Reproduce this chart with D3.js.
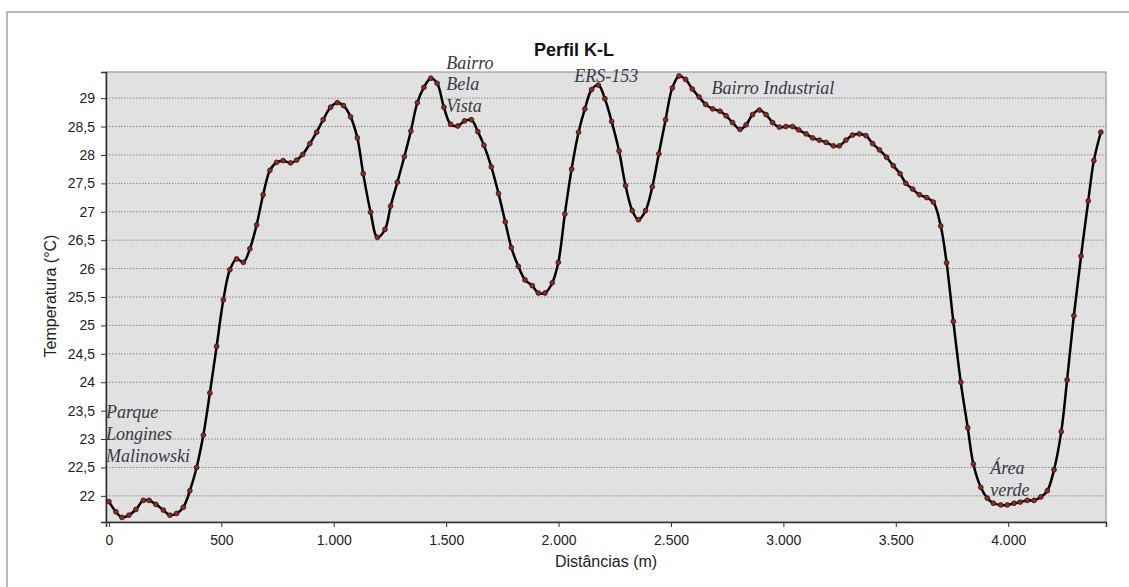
<!DOCTYPE html>
<html lang="pt">
    <head>
        <meta charset="utf-8">
        <title>Perfil K-L</title>
        <style>
          body {
            margin: 0;
            background: white;
          }
          .tick text {
            font: 14px "Liberation Sans", Arial, sans-serif;
            fill: #222;
          }
          .grid line {
            stroke: #8a8a8a;
            stroke-dasharray: 1.5,1.5;
          }
          .note {
            font-family: "Liberation Serif", "Times New Roman", serif;
            font-style: italic;
            font-size: 18px;
            fill: #353a45;
          }
        </style>
        <script src="https://cdn.jsdelivr.net/npm/d3@7"></script>
    </head>
    <body>
        <script type="text/javascript">
          var w=1129;
          var h=587;

          // distance (m) of every sample along the K-L transect
          var distances=[0,31,58,89,120,153,179,209,242,271,301,331,360,390,420,449,479,509,538,568,
            598,627,657,686,716,746,775,808,835,862,894,924,953,986,1016,1043,1075,1105,1131,1164,
            1194,1228,1253,1283,1314,1343,1372,1401,1432,1460,1490,1520,1552,1582,1612,1641,1668,1701,1733,1763,
            1790,1821,1851,1883,1910,1940,1972,1999,2028,2058,2089,2117,2147,2177,2206,2236,2269,2298,2328,2355,
            2387,2417,2446,2476,2506,2536,2565,2595,2625,2654,2686,2718,2745,2774,2807,2834,2863,2893,2923,2952,
            2982,3011,3041,3068,3101,3130,3160,3190,3222,3249,3278,3308,3338,3367,3397,3427,3459,3489,3519,3545,
            3575,3605,3637,3667,3700,3726,3756,3789,3820,3845,3878,3907,3934,3967,3996,4026,4053,4085,4115,4145,
            4174,4204,4236,4262,4292,4324,4356,4381,4412];

          // temperature (°C) at each sample
          var temperatures=[21.90,21.72,21.62,21.66,21.76,21.92,21.92,21.85,21.75,21.66,21.69,21.80,22.09,22.50,23.07,23.81,24.63,25.45,25.98,26.17,
            26.11,26.35,26.77,27.30,27.73,27.87,27.90,27.86,27.91,28.01,28.20,28.40,28.62,28.84,28.92,28.87,28.67,28.30,27.67,26.99,
            26.55,26.69,27.10,27.52,27.97,28.42,28.92,29.19,29.35,29.26,28.84,28.54,28.51,28.60,28.62,28.41,28.17,27.79,27.32,26.82,
            26.37,26.04,25.80,25.70,25.57,25.57,25.75,26.11,26.96,27.75,28.40,28.81,29.15,29.23,28.99,28.59,28.07,27.46,27.02,26.86,
            27.02,27.44,28.02,28.62,29.18,29.39,29.33,29.16,29.02,28.89,28.81,28.77,28.69,28.57,28.45,28.53,28.71,28.79,28.71,28.57,
            28.49,28.50,28.50,28.44,28.37,28.30,28.26,28.22,28.16,28.16,28.26,28.35,28.37,28.34,28.20,28.09,27.96,27.81,27.67,27.50,
            27.40,27.30,27.25,27.17,26.75,26.10,25.07,24.00,23.20,22.56,22.15,21.96,21.87,21.84,21.84,21.87,21.89,21.92,21.92,21.98,
            22.09,22.46,23.13,24.04,25.17,26.22,27.19,27.90,28.40];

          var xTicks=[0,500,1000,1500,2000,2500,3000,3500,4000];
          var yTicks=[22,22.5,23,23.5,24,24.5,25,25.5,26,26.5,27,27.5,28,28.5,29];

          // place names written over the profile: [text lines, distance, temperature of first line]
          var noteLines=[["Parque","Longines","Malinowski"],["Bairro","Bela","Vista"],["ERS-153"],["Bairro Industrial"],["Área","verde"]];
          var noteX=[-13,1500,2070,2680,3920];
          var noteY=[23.37,29.52,29.28,29.07,22.38];

          var pt=d3.formatLocale({decimal:",",thousands:".",grouping:[3],currency:["R$",""]});

          var margin={left:106,right:23,top:72,bottom:65};

          var svg=d3.select("body").append("svg")
            .attr('width',w)
            .attr('height',h);

          // outer chart frame
          svg.append("rect")
            .attr("x",7).attr("y",12)
            .attr("width",w+20).attr("height",h+20)
            .attr("fill","white")
            .attr("stroke","#a3a3a3")
            .attr("stroke-width",1.5);

          var x=d3.scaleLinear().domain([-13,4435]).range([margin.left,w-margin.right]);
          var y=d3.scaleLinear().domain([21.54,29.46]).range([h-margin.bottom,margin.top]);

          svg.append("rect")
            .attr("x",margin.left).attr("y",margin.top)
            .attr("width",w-margin.left-margin.right)
            .attr("height",h-margin.top-margin.bottom)
            .attr("fill","#e1e1e1")
            .attr("stroke","#9a9a9a")
            .attr("stroke-width",1.2);

          svg.append("g")
            .attr("class","grid")
            .selectAll("line")
            .data(yTicks)
            .enter().append("line")
            .attr("x1",margin.left).attr("x2",w-margin.right)
            .attr("y1",function(d){ return y(d); })
            .attr("y2",function(d){ return y(d); });

          var xAxis=svg.append("g")
            .attr("transform","translate(0,"+(h-margin.bottom)+")")
            .call(d3.axisBottom(x).tickValues(xTicks).tickSize(5).tickPadding(8).tickFormat(pt.format(",d")));
          xAxis.select(".domain").attr("stroke","#333").attr("stroke-width",1.5);

          var yAxis=svg.append("g")
            .attr("transform","translate("+margin.left+",0)")
            .call(d3.axisLeft(y).tickValues(yTicks).tickSize(5).tickPadding(6).tickFormat(pt.format("~f")));
          yAxis.select(".domain").attr("stroke","#333").attr("stroke-width",1.5);
          svg.selectAll(".tick line").attr("stroke","#333");

          var line=d3.line()
            .x(function(d,i){ return x(distances[i]); })
            .y(function(d){ return y(d); })
            .curve(d3.curveCatmullRom);

          svg.append("path")
            .datum(temperatures)
            .attr("d",line)
            .attr("fill","none")
            .attr("stroke","black")
            .attr("stroke-width",2.5);

          svg.append("g")
            .selectAll("circle")
            .data(temperatures)
            .enter().append("circle")
            .attr("cx",function(d,i){ return x(distances[i]); })
            .attr("cy",function(d){ return y(d); })
            .attr("r",2.4)
            .attr("fill","#8e2a26")
            .attr("stroke","#3b0c0a")
            .attr("stroke-width",0.8);

          // annotations
          var notes=svg.append("g");
          noteLines.forEach(function(lines,k){
            var t=notes.append("text")
              .attr("class","note")
              .attr("x",x(noteX[k]))
              .attr("y",y(noteY[k]));
            lines.forEach(function(s,j){
              t.append("tspan")
                .attr("x",x(noteX[k]))
                .attr("dy",j==0?0:21.8)
                .text(s);
            });
          });

          svg.append("text")
            .attr("x",574).attr("y",56)
            .attr("text-anchor","middle")
            .style("font","bold 18px 'Liberation Sans', Arial, sans-serif")
            .attr("fill","#111")
            .text("Perfil K-L");

          svg.append("text")
            .attr("x",(margin.left+w-margin.right)/2).attr("y",567)
            .attr("text-anchor","middle")
            .style("font","16px 'Liberation Sans', Arial, sans-serif")
            .attr("fill","#222")
            .text("Distâncias (m)");

          svg.append("text")
            .attr("transform","translate(56,296) rotate(-90)")
            .attr("text-anchor","middle")
            .style("font","16px 'Liberation Sans', Arial, sans-serif")
            .attr("fill","#222")
            .text("Temperatura (°C)");
        </script>
    </body>
</html>
